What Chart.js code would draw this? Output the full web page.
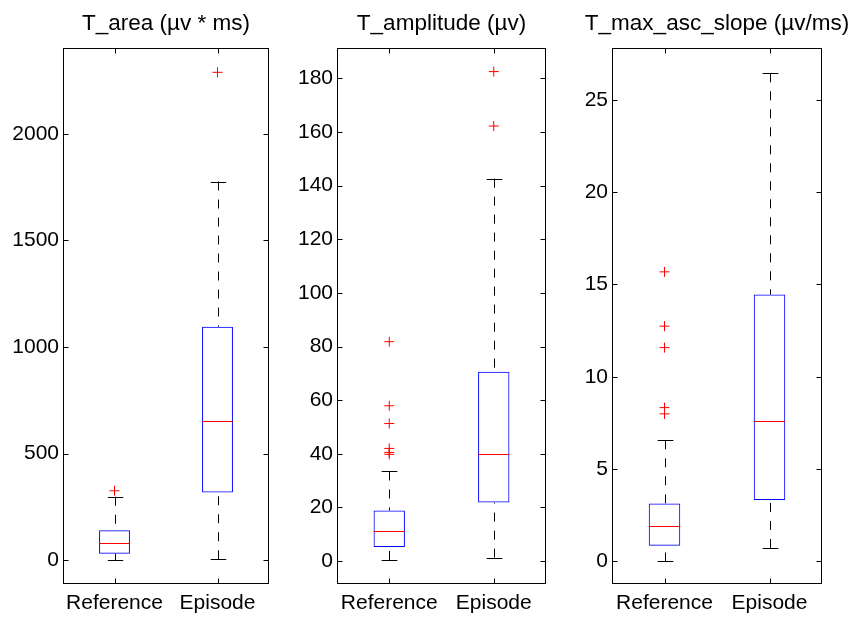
<!DOCTYPE html>
<html>
<head>
<meta charset="utf-8">
<script src="https://cdn.jsdelivr.net/npm/chart.js@4/dist/chart.umd.min.js"></script>
<style>
  body { margin: 0; background: #fff; }
  #wrap { position: relative; width: 854px; height: 618px; }
  canvas { position: absolute; top: 0; }
</style>
</head>
<body>
<div id="wrap">
  <canvas id="c1" width="285" height="618" style="left:0px"></canvas>
  <canvas id="c2" width="285" height="618" style="left:285px"></canvas>
  <canvas id="c3" width="284" height="618" style="left:570px"></canvas>
</div>
<script>
// categories on every panel
const categories = ["Reference", "Episode"];

// T_area (µv * ms)
const areaLow = [0, 5];
const areaQ1 = [31, 318];
const areaMedian = [81, 651];
const areaQ3 = [141, 1095];
const areaHigh = [298, 1776];
const areaOutliers = [[326], [2288]];
const areaTicks = [0, 500, 1000, 1500, 2000];

// T_amplitude (µv)
const ampLow = [0.4, 1.3];
const ampQ1 = [5.2, 21.8];
const ampMedian = [11.2, 40.1];
const ampQ3 = [18.9, 70.6];
const ampHigh = [33.4, 142.6];
const ampOutliers = [[81.8, 57.9, 51.3, 42, 40.5, 39.8], [182.5, 162.2]];
const ampTicks = [0, 20, 40, 60, 80, 100, 120, 140, 160, 180];

// T_max_asc_slope (µv/ms)
const slopeLow = [0, 0.73];
const slopeQ1 = [0.85, 3.33];
const slopeMedian = [1.9, 7.59];
const slopeQ3 = [3.14, 14.45];
const slopeHigh = [6.56, 26.43];
const slopeOutliers = [[15.68, 12.74, 11.58, 8.33, 7.99], []];
const slopeTicks = [0, 5, 10, 15, 20, 25];

const FONT = "'Liberation Sans', Arial, Helvetica, sans-serif";

// whiskers under the boxes, medians on top, frame + inward ticks like matlab
const boxPlugin = {
  id: "boxParts",
  beforeDatasetsDraw(chart, args, opts) {
    let st = opts.stats;
    if (!st) return;
    let ctx = chart.ctx;
    let y = chart.scales.y;
    let meta = chart.getDatasetMeta(0);
    ctx.save();
    ctx.strokeStyle = "#000";
    ctx.lineWidth = 1;
    for (let i = 0; i < categories.length; i++) {
      let bar = meta.data[i];
      let x = Math.round(bar.x) + 0.5;
      let cap = bar.width / 4;
      ctx.setLineDash([9, 9]);
      ctx.beginPath();
      ctx.moveTo(x, y.getPixelForValue(st.high[i]));
      ctx.lineTo(x, y.getPixelForValue(st.q3[i]));
      ctx.moveTo(x, y.getPixelForValue(st.low[i]));
      ctx.lineTo(x, y.getPixelForValue(st.q1[i]));
      ctx.stroke();
      ctx.setLineDash([]);
      ctx.beginPath();
      let yh = Math.round(y.getPixelForValue(st.high[i])) + 0.5;
      let yl = Math.round(y.getPixelForValue(st.low[i])) + 0.5;
      ctx.moveTo(x - cap, yh);
      ctx.lineTo(x + cap, yh);
      ctx.moveTo(x - cap, yl);
      ctx.lineTo(x + cap, yl);
      ctx.stroke();
    }
    ctx.restore();
  },
  afterDatasetsDraw(chart, args, opts) {
    let st = opts.stats;
    if (!st) return;
    let ctx = chart.ctx;
    let y = chart.scales.y;
    let xs = chart.scales.x;
    let meta = chart.getDatasetMeta(0);
    let a = chart.chartArea;
    ctx.save();
    ctx.strokeStyle = "#ff0000";
    ctx.lineWidth = 1;
    for (let i = 0; i < categories.length; i++) {
      let bar = meta.data[i];
      let ym = Math.round(y.getPixelForValue(st.median[i])) + 0.5;
      ctx.beginPath();
      ctx.moveTo(bar.x - bar.width / 2, ym);
      ctx.lineTo(bar.x + bar.width / 2, ym);
      ctx.stroke();
    }
    // frame
    let l = Math.round(a.left) + 0.5, r = Math.round(a.right) - 0.5;
    let t = Math.round(a.top) + 0.5, b = Math.round(a.bottom) - 0.5;
    ctx.strokeStyle = "#000";
    ctx.strokeRect(l, t, r - l, b - t);
    // inward tick marks
    ctx.beginPath();
    y.ticks.forEach(tk => {
      let p = Math.round(y.getPixelForValue(tk.value)) + 0.5;
      ctx.moveTo(l, p); ctx.lineTo(l + 5, p);
      ctx.moveTo(r, p); ctx.lineTo(r - 5, p);
    });
    for (let i = 0; i < categories.length; i++) {
      let p = Math.round(xs.getPixelForValue(i)) + 0.5;
      ctx.moveTo(p, t); ctx.lineTo(p, t + 5);
      ctx.moveTo(p, b); ctx.lineTo(p, b - 5);
    }
    ctx.stroke();
    // title, centred over the axes box (no squeezing)
    ctx.fillStyle = "#000";
    ctx.font = "22.5px " + FONT;
    ctx.textAlign = "center";
    ctx.textBaseline = "middle";
    ctx.fillText(opts.title, (a.left + a.right) / 2, 24);
    ctx.restore();
  }
};

function makePanel(id, title, low, q1, median, q3, high, outliers, tickVals, yMin, yMax, axisW, padRight) {
  let outPts = [];
  outliers.forEach((list, i) => list.forEach(v => outPts.push({ x: categories[i], y: v })));
  return new Chart(document.getElementById(id), {
    type: "bar",
    data: {
      labels: categories,
      datasets: [{
        data: categories.map((c, i) => [q1[i], q3[i]]),
        backgroundColor: "rgba(0,0,0,0)",
        borderColor: "#0000ff",
        borderWidth: 1,
        borderSkipped: false,
        barPercentage: 0.3,
        categoryPercentage: 1
      }, {
        type: "line",
        data: outPts,
        showLine: false,
        pointStyle: "cross",
        pointRadius: 5,
        pointBorderColor: "#ff0000",
        pointBorderWidth: 1,
        borderColor: "#ff0000"
      }]
    },
    options: {
      responsive: false,
      devicePixelRatio: 1,
      animation: false,
      layout: { padding: { left: 0, right: padRight, top: 48, bottom: 0 } },
      plugins: {
        legend: { display: false },
        tooltip: { enabled: false },
        title: { display: false },
        boxParts: { title: title, stats: { low: low, q1: q1, median: median, q3: q3, high: high } }
      },
      scales: {
        x: {
          offset: true,
          grid: { display: false, drawTicks: false },
          border: { display: false },
          ticks: { color: "#000", padding: 7, font: { family: FONT, size: 21 } },
          afterFit: s => { s.height = 34; }
        },
        y: {
          min: yMin,
          max: yMax,
          grid: { display: false, drawTicks: false },
          border: { display: false },
          ticks: {
            color: "#000",
            padding: 4,
            font: { family: FONT, size: 21 },
            callback: v => String(v)
          },
          afterBuildTicks: s => { s.ticks = tickVals.map(v => ({ value: v })); },
          afterFit: s => { s.width = axisW; }
        }
      }
    },
    plugins: [boxPlugin]
  });
}

makePanel("c1", "T_area (\u00b5v * ms)", areaLow, areaQ1, areaMedian, areaQ3, areaHigh, areaOutliers, areaTicks, -111, 2402, 63, 16);
makePanel("c2", "T_amplitude (\u00b5v)", ampLow, ampQ1, ampMedian, ampQ3, ampHigh, ampOutliers, ampTicks, -8.55, 191.3, 52, 24);
makePanel("c3", "T_max_asc_slope (\u00b5v/ms)", slopeLow, slopeQ1, slopeMedian, slopeQ3, slopeHigh, slopeOutliers, slopeTicks, -1.22, 27.8, 42, 32);
</script>
</body>
</html>
